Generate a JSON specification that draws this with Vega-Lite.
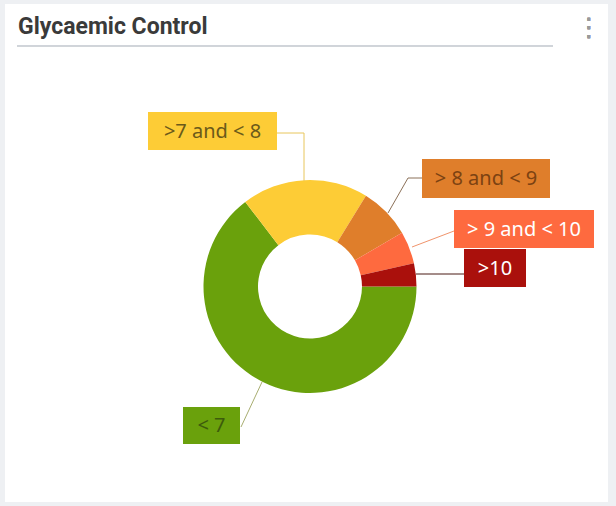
{
  "$schema": "https://vega.github.io/schema/vega-lite/v6.json",
  "width": 603,
  "height": 498,
  "autosize": "none",
  "padding": {"left": 5, "top": 4, "right": 8, "bottom": 4},
  "background": "#eef0f3",
  "view": {"fill": "white", "stroke": null},
  "title": {"text": "Glycaemic Control", "anchor": "start", "frame": "group", "font": "Roboto", "fontSize": 23, "fontWeight": "bold", "color": "#3a3a3a", "dx": 13, "dy": 53, "offset": 0, "baseline": "alphabetic"},
  "data": {"values": [
    {"range": "< 7", "share": 64.6, "rank": 1},
    {"range": ">7  and < 8", "share": 19.2, "rank": 2},
    {"range": "> 8 and < 9", "share": 7.8, "rank": 3},
    {"range": "> 9 and < 10", "share": 4.9, "rank": 4},
    {"range": ">10", "share": 3.5, "rank": 5}
  ]},
  "layer": [
    {
      "mark": {"type": "arc", "innerRadius": 52, "outerRadius": 106.5},
      "encoding": {
        "x": {"datum": 310, "type": "quantitative", "scale": {"domain": [5, 608], "nice": false, "zero": false}, "axis": null},
        "y": {"datum": 286.5, "type": "quantitative", "scale": {"domain": [4, 502], "reverse": true, "nice": false, "zero": false}, "axis": null},
        "theta": {"field": "share", "type": "quantitative", "stack": true, "scale": {"range": [1.5708, 7.854]}},
        "order": {"field": "rank", "type": "quantitative"},
        "color": {"field": "range", "type": "nominal", "legend": null, "scale": {"domain": ["< 7", ">7  and < 8", "> 8 and < 9", "> 9 and < 10", ">10"], "range": ["#6aa10c", "#fdcc36", "#df7e2b", "#fe6a3f", "#aa100c"]}}
      }
    },
    {
      "mark": {"type": "rule", "color": "#cfd3d8", "strokeWidth": 1},
      "encoding": {
        "x": {"datum": 17, "type": "quantitative", "axis": null},
        "x2": {"datum": 553},
        "y": {"datum": 46, "type": "quantitative", "axis": null},
        "y2": {"datum": 46}
      }
    },
    {
      "mark": {"type": "text", "text": "⋮", "fontSize": 26, "font": "DejaVu Sans", "color": "#9a9a9a", "align": "center", "baseline": "middle"},
      "encoding": {
        "x": {"datum": 589, "type": "quantitative", "axis": null},
        "y": {"datum": 28, "type": "quantitative", "axis": null}
      }
    },
    {
      "transform": [{"filter": {"field": "range", "equal": ">7  and < 8"}}],
      "layer": [
        {"mark": {"type": "rule", "color": "#e8c65c", "strokeWidth": 1}, "encoding": {"x": {"datum": 277, "type": "quantitative", "axis": null}, "x2": {"datum": 304}, "y": {"datum": 133, "type": "quantitative", "axis": null}, "y2": {"datum": 133}}},
        {"mark": {"type": "rule", "color": "#e8c65c", "strokeWidth": 1}, "encoding": {"x": {"datum": 304, "type": "quantitative", "axis": null}, "x2": {"datum": 304}, "y": {"datum": 133, "type": "quantitative", "axis": null}, "y2": {"datum": 181}}},
        {"mark": {"type": "rect"}, "encoding": {"x": {"datum": 148, "type": "quantitative", "axis": null}, "x2": {"datum": 277}, "y": {"datum": 112, "type": "quantitative", "axis": null}, "y2": {"datum": 150}, "color": {"field": "range", "type": "nominal", "legend": null}}},
        {"mark": {"type": "text", "font": "Noto Sans", "fontSize": 20, "color": "#6b5a1a"}, "encoding": {"x": {"datum": 212.5, "type": "quantitative", "axis": null}, "y": {"datum": 132, "type": "quantitative", "axis": null}, "text": {"field": "range"}}}
      ]
    },
    {
      "transform": [{"filter": {"field": "range", "equal": "> 8 and < 9"}}],
      "layer": [
        {"mark": {"type": "rule", "color": "#8b7058", "strokeWidth": 1}, "encoding": {"x": {"datum": 408, "type": "quantitative", "axis": null}, "x2": {"datum": 422}, "y": {"datum": 178, "type": "quantitative", "axis": null}, "y2": {"datum": 178}}},
        {"mark": {"type": "rule", "color": "#8b7058", "strokeWidth": 1}, "encoding": {"x": {"datum": 408, "type": "quantitative", "axis": null}, "x2": {"datum": 388}, "y": {"datum": 178, "type": "quantitative", "axis": null}, "y2": {"datum": 213}}},
        {"mark": {"type": "rect"}, "encoding": {"x": {"datum": 422, "type": "quantitative", "axis": null}, "x2": {"datum": 550}, "y": {"datum": 159, "type": "quantitative", "axis": null}, "y2": {"datum": 198}, "color": {"field": "range", "type": "nominal", "legend": null}}},
        {"mark": {"type": "text", "font": "Noto Sans", "fontSize": 20, "color": "#7c4212"}, "encoding": {"x": {"datum": 486, "type": "quantitative", "axis": null}, "y": {"datum": 179, "type": "quantitative", "axis": null}, "text": {"field": "range"}}}
      ]
    },
    {
      "transform": [{"filter": {"field": "range", "equal": "> 9 and < 10"}}],
      "layer": [
        {"mark": {"type": "rule", "color": "#f0946c", "strokeWidth": 1}, "encoding": {"x": {"datum": 454, "type": "quantitative", "axis": null}, "x2": {"datum": 412}, "y": {"datum": 231, "type": "quantitative", "axis": null}, "y2": {"datum": 247}}},
        {"mark": {"type": "rect"}, "encoding": {"x": {"datum": 454, "type": "quantitative", "axis": null}, "x2": {"datum": 594}, "y": {"datum": 210, "type": "quantitative", "axis": null}, "y2": {"datum": 248}, "color": {"field": "range", "type": "nominal", "legend": null}}},
        {"mark": {"type": "text", "font": "Noto Sans", "fontSize": 20, "color": "#ffffff"}, "encoding": {"x": {"datum": 524, "type": "quantitative", "axis": null}, "y": {"datum": 230, "type": "quantitative", "axis": null}, "text": {"field": "range"}}}
      ]
    },
    {
      "transform": [{"filter": {"field": "range", "equal": ">10"}}],
      "layer": [
        {"mark": {"type": "rule", "color": "#4a1a14", "strokeWidth": 1}, "encoding": {"x": {"datum": 464, "type": "quantitative", "axis": null}, "x2": {"datum": 416}, "y": {"datum": 274, "type": "quantitative", "axis": null}, "y2": {"datum": 274}}},
        {"mark": {"type": "rect"}, "encoding": {"x": {"datum": 464, "type": "quantitative", "axis": null}, "x2": {"datum": 526}, "y": {"datum": 249, "type": "quantitative", "axis": null}, "y2": {"datum": 287}, "color": {"field": "range", "type": "nominal", "legend": null}}},
        {"mark": {"type": "text", "font": "Noto Sans", "fontSize": 20, "color": "#ffffff"}, "encoding": {"x": {"datum": 495, "type": "quantitative", "axis": null}, "y": {"datum": 269, "type": "quantitative", "axis": null}, "text": {"field": "range"}}}
      ]
    },
    {
      "transform": [{"filter": {"field": "range", "equal": "< 7"}}],
      "layer": [
        {"mark": {"type": "rule", "color": "#a8ad70", "strokeWidth": 1}, "encoding": {"x": {"datum": 241, "type": "quantitative", "axis": null}, "x2": {"datum": 262}, "y": {"datum": 427, "type": "quantitative", "axis": null}, "y2": {"datum": 382}}},
        {"mark": {"type": "rect"}, "encoding": {"x": {"datum": 183, "type": "quantitative", "axis": null}, "x2": {"datum": 240}, "y": {"datum": 407, "type": "quantitative", "axis": null}, "y2": {"datum": 444}, "color": {"field": "range", "type": "nominal", "legend": null}}},
        {"mark": {"type": "text", "font": "Noto Sans", "fontSize": 20, "color": "#3d5c0c"}, "encoding": {"x": {"datum": 211.5, "type": "quantitative", "axis": null}, "y": {"datum": 426, "type": "quantitative", "axis": null}, "text": {"field": "range"}}}
      ]
    }
  ]
}
